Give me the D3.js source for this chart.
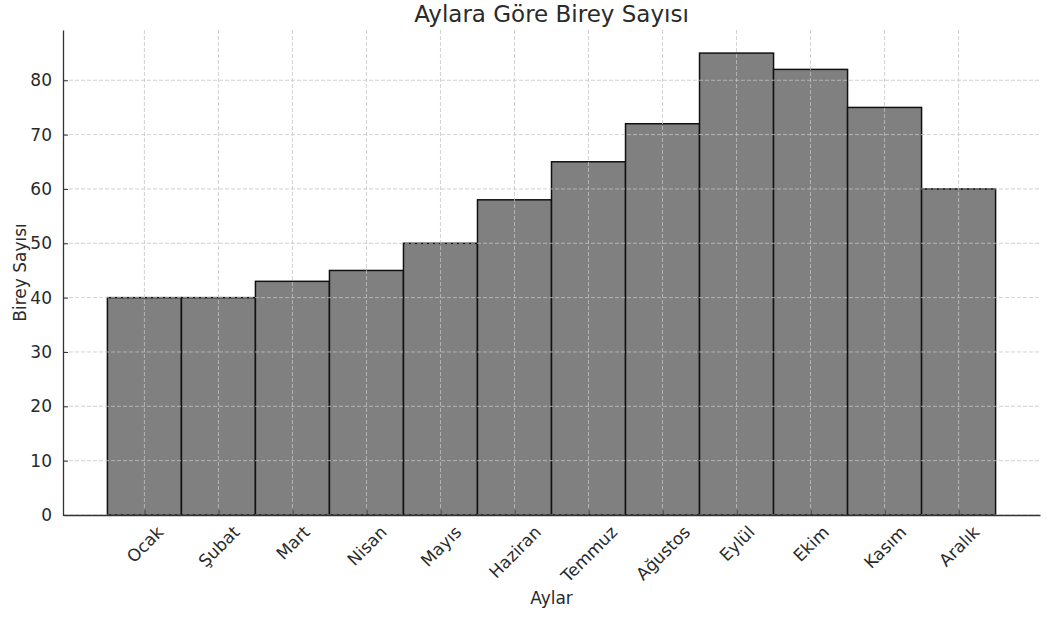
<!DOCTYPE html>
<html>
<head>
<meta charset="utf-8">
<script src="https://cdn.jsdelivr.net/npm/d3@7"></script>
<style>
  html, body { margin: 0; padding: 0; background: #fff; }
  svg { display: block; font-family: "DejaVu Sans", sans-serif; }
</style>
</head>
<body>
<svg id="chart" width="1047" height="617"></svg>
<script>
const months = ["Ocak", "Şubat", "Mart", "Nisan", "Mayıs", "Haziran", "Temmuz", "Ağustos", "Eylül", "Ekim", "Kasım", "Aralık"];
const counts = [40, 40, 43, 45, 50, 58, 65, 72, 85, 82, 75, 60];
const yTicks = [0, 10, 20, 30, 40, 50, 60, 70, 80];
const titleText = "Aylara Göre Birey Sayısı";
const xLabel = "Aylar";
const yLabel = "Birey Sayısı";

(function() {
const mLeft = 63, mRight = 1040, mTop = 30, mBottom = 515;
const textColor = "#2a2a2a";
const fs = 17;

const svg = d3.select("#chart");

const yMax = d3.max(counts) * 1.05;
const n = months.length;
const pad = n * 0.05;
const x = d3.scaleLinear().domain([-0.5 - pad, n - 0.5 + pad]).range([mLeft, mRight]);
const y = d3.scaleLinear().domain([0, yMax]).range([mBottom, mTop]);

// Bars
svg.append("g").selectAll("rect")
  .data(counts)
  .join("rect")
  .attr("x", (d, i) => x(i - 0.5))
  .attr("y", d => y(d))
  .attr("width", (d, i) => x(i + 0.5) - x(i - 0.5))
  .attr("height", d => y(0) - y(d))
  .attr("fill", "#808080")
  .attr("stroke", "#111")
  .attr("stroke-width", 1.5);

// Grid (drawn above bars)
const grid = svg.append("g");
grid.selectAll("line.h")
  .data(yTicks)
  .join("line")
  .attr("class", "h")
  .attr("x1", mLeft).attr("x2", mRight)
  .attr("y1", d => y(d)).attr("y2", d => y(d))
  .attr("stroke", "#c4c4c4").attr("stroke-opacity", 0.85)
  .attr("stroke-width", 0.9).attr("stroke-dasharray", "4,2");
grid.selectAll("line.v")
  .data(months.map((m, i) => i))
  .join("line")
  .attr("class", "v")
  .attr("x1", d => x(d)).attr("x2", d => x(d))
  .attr("y1", mTop).attr("y2", mBottom)
  .attr("stroke", "#c4c4c4").attr("stroke-opacity", 0.85)
  .attr("stroke-width", 0.9).attr("stroke-dasharray", "4,2");

// Y axis
const yAxis = d3.axisLeft(y).tickValues(yTicks).tickSizeInner(-5).tickSizeOuter(0).tickPadding(11);
const gy = svg.append("g").attr("transform", `translate(${mLeft},0)`).call(yAxis);
gy.select(".domain").attr("stroke", "#333").attr("stroke-width", 1.3);
gy.selectAll(".tick line").attr("stroke", "#333").attr("stroke-width", 1);
gy.selectAll(".tick text").attr("fill", textColor).style("font-size", fs + "px")
  .style("font-family", "DejaVu Sans");

// X axis
const xAxis = d3.axisBottom(x).tickValues(months.map((m, i) => i)).tickFormat(i => months[i])
  .tickSizeInner(-5).tickSizeOuter(0);
const gx = svg.append("g").attr("transform", `translate(0,${mBottom})`).call(xAxis);
gx.select(".domain").attr("stroke", "#333").attr("stroke-width", 1.3);
gx.selectAll(".tick line").attr("stroke", "#333").attr("stroke-width", 1);
gx.selectAll(".tick text")
  .attr("fill", textColor)
  .style("font-size", fs + "px")
  .style("font-family", "DejaVu Sans")
  .attr("text-anchor", "middle")
  .attr("dy", null)
  .attr("dominant-baseline", "central")
  .each(function() {
    const t = d3.select(this);
    const w = this.getComputedTextLength();
    const h = fs * 1.0;
    const half = (w + h) * Math.SQRT1_2 / 2;
    const cy = 8 + half;
    t.attr("x", 0).attr("y", cy).attr("transform", `rotate(-45,0,${cy})`);
  });

// Title
svg.append("text")
  .attr("x", (mLeft + mRight) / 2).attr("y", 22)
  .attr("text-anchor", "middle")
  .attr("fill", textColor)
  .style("font-size", "23px")
  .text(titleText);

// X label
svg.append("text")
  .attr("x", (mLeft + mRight) / 2).attr("y", 604)
  .attr("text-anchor", "middle")
  .attr("fill", textColor)
  .style("font-size", fs + "px")
  .text(xLabel);

// Y label
svg.append("text")
  .attr("transform", `translate(26,${(mTop + mBottom) / 2}) rotate(-90)`)
  .attr("text-anchor", "middle")
  .attr("fill", textColor)
  .style("font-size", fs + "px")
  .text(yLabel);
})();
</script>
</body>
</html>
